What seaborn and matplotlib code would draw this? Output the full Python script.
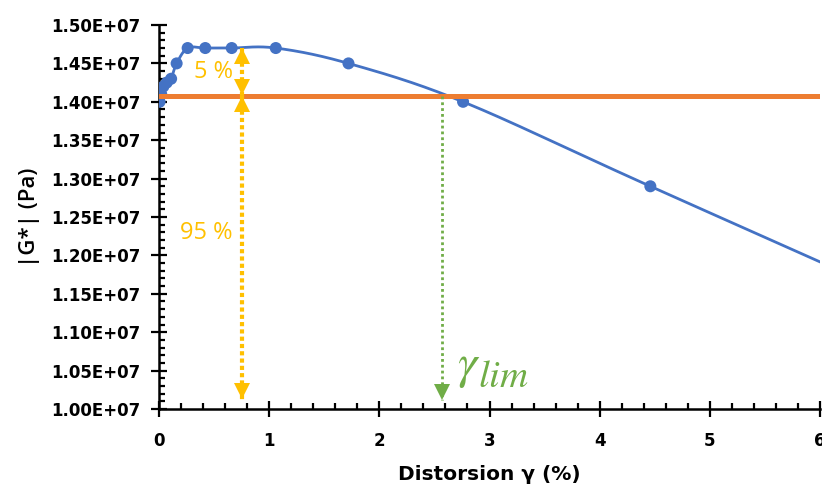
import matplotlib
matplotlib.use("Agg")
import matplotlib.pyplot as plt
import numpy as np
import pandas as pd
import seaborn as sns
from matplotlib.ticker import FixedLocator, MultipleLocator
from matplotlib.transforms import ScaledTranslation

# strain sweep: |G*| vs distortion (the last point lies past the visible x range)
strain = [0.005, 0.02, 0.04, 0.07, 0.11, 0.16, 0.26, 0.42, 0.66, 1.06, 1.72, 2.76, 4.46, 7.2]
modulus = [1.40e7, 1.41e7, 1.42e7, 1.425e7, 1.43e7, 1.45e7, 1.47e7, 1.47e7, 1.47e7,
           1.47e7, 1.45e7, 1.40e7, 1.29e7, 1.115e7]

plateau = 1.47e7
threshold = 1.408e7
gamma_lim = 2.57
arrow_x = 0.75
arrow_bottom = 1.012e7

x_ticks = [0, 1, 2, 3, 4, 5, 6]
y_ticks = [1.00e7, 1.05e7, 1.10e7, 1.15e7, 1.20e7, 1.25e7, 1.30e7, 1.35e7, 1.40e7, 1.45e7, 1.50e7]

BLUE = "#4472C4"
ORANGE = "#ED7D31"
YELLOW = "#FFC000"
GREEN = "#70AD47"


def smooth_curve(xs, ys, n=40):
    # Excel-style smoothed scatter line (Bezier with Catmull-Rom control points)
    p = np.column_stack([xs, ys]).astype(float)
    ext = np.vstack([p[0], p, p[-1]])
    t = np.linspace(0, 1, n)[:, None]
    out = []
    for i in range(len(p) - 1):
        p0, p3 = ext[i + 1], ext[i + 2]
        c1 = p0 + (ext[i + 2] - ext[i]) / 6
        c2 = p3 - (ext[i + 3] - ext[i + 1]) / 6
        seg = (1 - t) ** 3 * p0 + 3 * (1 - t) ** 2 * t * c1 + 3 * (1 - t) * t ** 2 * c2 + t ** 3 * p3
        out.append(seg)
    out = np.vstack(out)
    return pd.DataFrame({"strain": out[:, 0], "modulus": out[:, 1]})


def arrow_head(ax, x, y, up, color, size):
    # triangle marker shifted so that its tip sits exactly on (x, y)
    shift = -size / 2 if up else size / 2
    trans = ax.transData + ScaledTranslation(0, shift / 72, ax.figure.dpi_scale_trans)
    ax.plot([x], [y], marker="^" if up else "v", markersize=size, color=color,
            markeredgewidth=0, transform=trans, zorder=7, clip_on=False)


def dotted_arrow(ax, x, y_top, y_bottom, color, lw, dots, size, head_top, head_bottom):
    ax.plot([x, x], [y_top, y_bottom], color=color, lw=lw, linestyle=dots, zorder=6)
    if head_top:
        arrow_head(ax, x, y_top, True, color, size)
    if head_bottom:
        arrow_head(ax, x, y_bottom, False, color, size)


sns.set_style("ticks")
plt.rcParams["font.family"] = ["Open Sans", "DejaVu Sans"]
plt.rcParams["mathtext.fontset"] = "stix"
plt.rcParams["text.color"] = "black"
plt.rcParams["axes.labelcolor"] = "black"
plt.rcParams["xtick.color"] = "black"
plt.rcParams["ytick.color"] = "black"

df = pd.DataFrame({"strain": strain, "modulus": modulus})
curve = smooth_curve(strain, modulus)

fig = plt.figure(figsize=(8.22, 4.94), dpi=100)
ax = fig.add_axes([159 / 822, 85 / 494, 661 / 822, 384 / 494])

sns.lineplot(data=curve, x="strain", y="modulus", sort=False, estimator=None,
             color=BLUE, linewidth=2.0, ax=ax, zorder=3)
sns.scatterplot(data=df, x="strain", y="modulus", color=BLUE, s=75,
                edgecolor="none", ax=ax, zorder=4)
ax.axhline(threshold, color=ORANGE, linewidth=3.6, zorder=5)

# 5 % and 95 % arrows
yellow_dots = (0, (1.0, 0.75))
dotted_arrow(ax, arrow_x, plateau, threshold, YELLOW, 3.0, yellow_dots, 12, True, True)
dotted_arrow(ax, arrow_x, threshold, arrow_bottom, YELLOW, 3.0, yellow_dots, 12, True, True)
ax.text(arrow_x - 0.08, (plateau + threshold) / 2, "5 %", color=YELLOW, fontsize=17,
        ha="right", va="center")
ax.text(arrow_x - 0.08, 1.229e7, "95 %", color=YELLOW, fontsize=17,
        ha="right", va="center")

# limit strain
dotted_arrow(ax, gamma_lim, threshold, arrow_bottom, GREEN, 2.0, (0, (1, 1.1)), 11, False, True)
ax.text(2.705, 1.0404e7, r"$\gamma$", color=GREEN, fontsize=35, ha="left", va="baseline")
ax.text(2.9, 1.0286e7, r"$\mathit{lim}$", color=GREEN, fontsize=28, ha="left", va="baseline")

ax.set_xlim(0, 6)
ax.set_ylim(1.0e7, 1.5e7)
ax.xaxis.set_major_locator(FixedLocator(x_ticks))
ax.yaxis.set_major_locator(FixedLocator(y_ticks))
ax.xaxis.set_minor_locator(MultipleLocator(0.2))
ax.yaxis.set_minor_locator(MultipleLocator(1e5))
tick_font = dict(fontweight="bold", fontsize=12, family="DejaVu Sans")
ax.set_xticklabels([str(v) for v in x_ticks], **tick_font)
ax.set_yticklabels([f"{v:.2E}" for v in y_ticks], **tick_font)

ax.tick_params(axis="both", which="major", direction="inout", length=11, width=1.6,
               color="black", labelcolor="black")
ax.tick_params(axis="x", which="major", pad=11)
ax.tick_params(axis="y", which="major", pad=8)
ax.tick_params(axis="both", which="minor", direction="in", length=4, width=1.6, color="black")

for side in ["left", "bottom"]:
    ax.spines[side].set_linewidth(1.8)
    ax.spines[side].set_color("black")
sns.despine(ax=ax)

ax.set_xlabel("Distorsion γ (%)", fontsize=14.5, fontweight="bold", family="DejaVu Sans",
              labelpad=11, color="black")
ax.set_ylabel("|G*| (Pa)", fontsize=16, fontweight="semibold", labelpad=8, color="black")

fig.savefig("out.png", dpi=100)
